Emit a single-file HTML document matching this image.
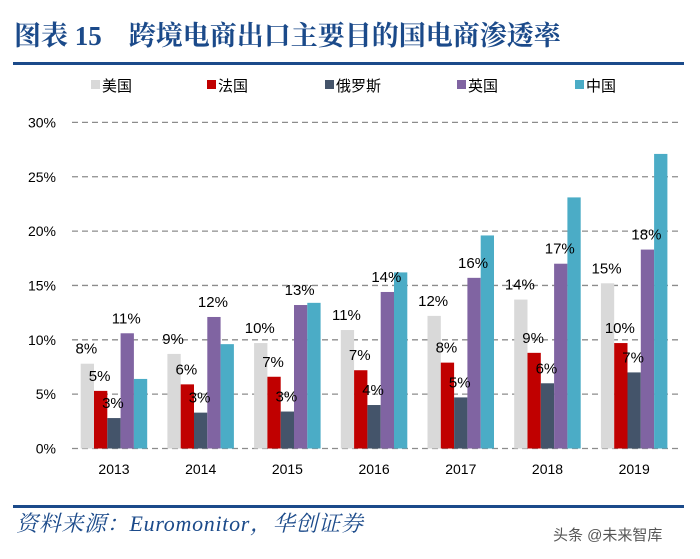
<!DOCTYPE html>
<html><head><meta charset="utf-8"><style>
body{margin:0;background:#fff;width:700px;height:554px;overflow:hidden;font-family:"Liberation Sans","Noto Sans CJK SC",sans-serif;}
</style></head><body>
<svg width="700" height="554" xmlns="http://www.w3.org/2000/svg">
<text x="14" y="45" font-family="'Liberation Serif','Noto Serif CJK SC',serif" font-weight="bold" font-size="27" fill="#1b4a8a">图表 15　跨境电商出口主要目的国电商渗透率</text>
<rect x="13" y="62" width="671" height="3" fill="#1b4a8a"/>
<g id="legend"></g>
<g id="grid"></g><g id="bars"></g>
<rect x="13" y="505" width="671" height="3" fill="#1b4a8a"/>
<text x="16" y="531" font-family="'Liberation Serif','Noto Serif CJK SC',serif" font-style="italic" font-size="22" letter-spacing="0.7" fill="#1b4a8a">资料来源：Euromonitor，华创证券</text>
<text x="553" y="540" font-size="15" fill="#555">头条 @未来智库</text>
</svg>
<script>
const categories=["2013","2014","2015","2016","2017","2018","2019"];
const seriesNames=["美国","法国","俄罗斯","英国","中国"];
const usa=[7.8,8.7,9.7,10.9,12.2,13.7,15.2];
const france=[5.3,5.9,6.6,7.2,7.9,8.8,9.7];
const russia=[2.8,3.3,3.4,4.0,4.7,6.0,7.0];
const uk=[10.6,12.1,13.2,14.4,15.7,17.0,18.3];
const china=[6.4,9.6,13.4,16.2,19.6,23.1,27.1];
const usaLabels=["8%","9%","10%","11%","12%","14%","15%"];
const franceLabels=["5%","6%","7%","7%","8%","9%","10%"];
const russiaLabels=["3%","3%","3%","4%","5%","6%","7%"];
const ukLabels=["11%","12%","13%","14%","16%","17%","18%"];
const yTicks=[0,5,10,15,20,25,30];
const colors=["#d9d9d9","#c00000","#44546a","#8064a2","#4bacc6"];
const NS="http://www.w3.org/2000/svg";
const x0=70.7,catW=86.7,barW=13.3,y0=448.5,pxPer=10.87;
const yS=v=>y0-v*pxPer;
const xS=(i,s)=>x0+i*catW+10+s*barW;
function mk(t,a,p){const e=document.createElementNS(NS,t);for(const k in a)e.setAttribute(k,a[k]);p.appendChild(e);return e;}
const grid=document.getElementById('grid'),bars=document.getElementById('bars'),leg=document.getElementById('legend');
yTicks.forEach(v=>{
 const l=mk('line',{x1:72,x2:678,y1:yS(v),y2:yS(v),stroke:'#8c8c8c','stroke-width':1.3,'stroke-dasharray':'6,4'},grid);
 
 
 const t=mk('text',{x:56,y:yS(v)+5,'text-anchor':'end','font-size':14,fill:'#000'},grid);
 t.textContent=v+'%';
 
 
});
categories.forEach((c,i)=>{
 const t=mk('text',{x:x0+i*catW+43.3,y:474,'text-anchor':'middle','font-size':14,fill:'#000'},grid);
 t.textContent=c;
 
 
});
const series=[usa,france,russia,uk,china];
const labels=[usaLabels,franceLabels,russiaLabels,ukLabels,null];
series.forEach((arr,s)=>{
 arr.forEach((v,i)=>{
  const r=mk('rect',{x:xS(i,s),y:yS(v),width:barW,height:v*pxPer,fill:colors[s]},bars);
  
  
 });
});
labels.forEach((arr,s)=>{
 if(!arr)return;
 arr.forEach((lb,i)=>{
  const t=mk('text',{x:xS(i,s)+barW/2-1,y:yS(series[s][i])-10,'text-anchor':'middle','font-size':15,fill:'#000'},bars);
  t.textContent=lb;
  
  
 });
});
const lx=[91,207,325,457,575];
seriesNames.forEach((n,s)=>{
 const g=mk('g',{},leg);
 
 
 mk('rect',{x:lx[s],y:80,width:9,height:9,fill:colors[s]},g);
 const t=mk('text',{x:lx[s]+11,y:91,'font-size':15,fill:'#000'},g);
 t.textContent=n;
});
</script>
</body></html>
